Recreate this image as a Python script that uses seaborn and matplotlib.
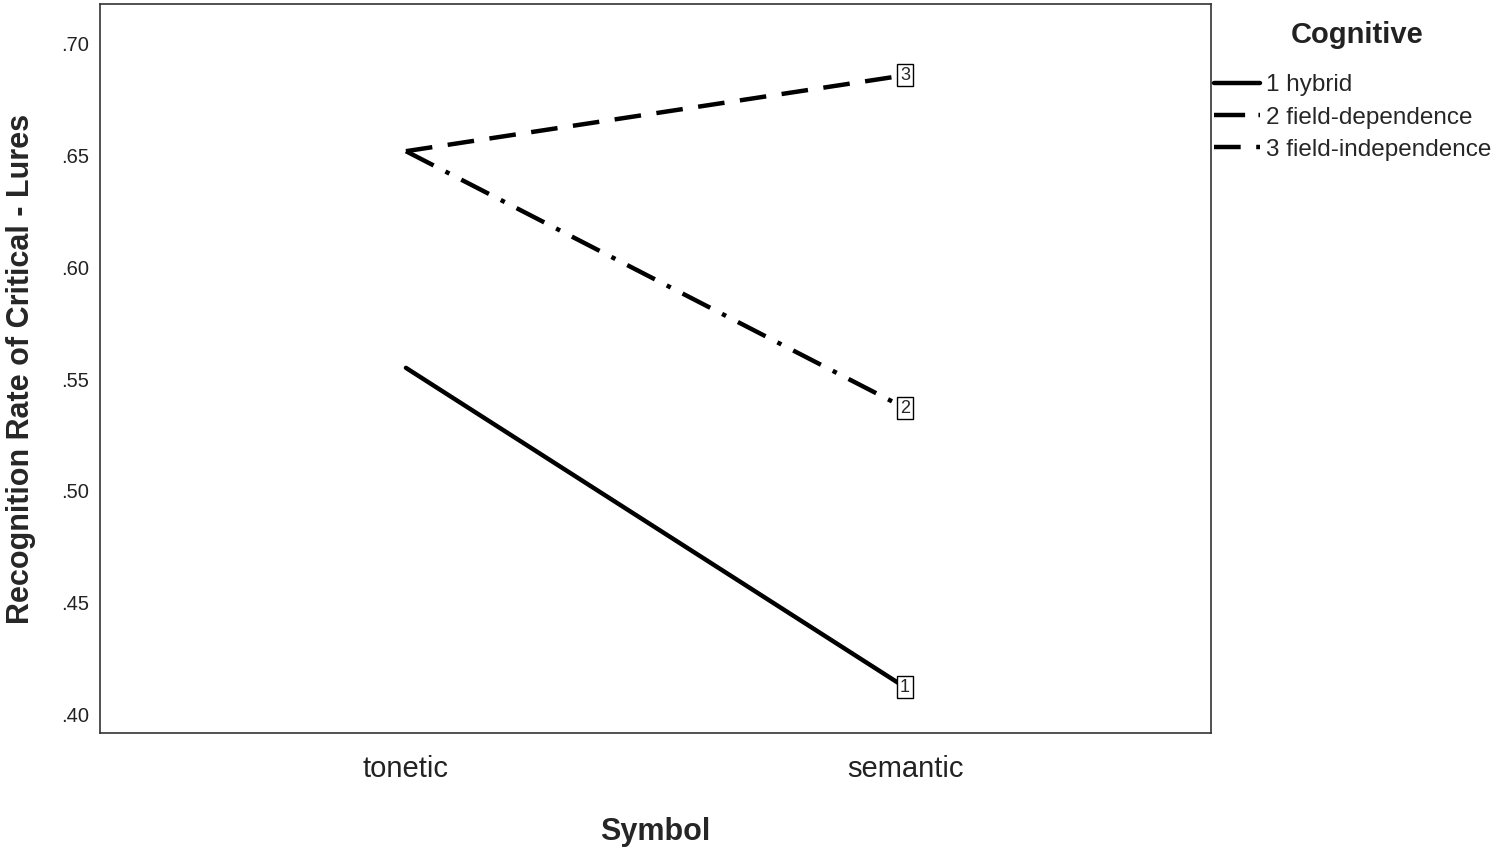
import numpy as np
import pandas as pd
import matplotlib
matplotlib.use("Agg")
import matplotlib.pyplot as plt
import seaborn as sns

# values
symbols = ["tonetic", "semantic"]
groups = ["1 hybrid", "2 field-dependence", "3 field-independence"]
group_ids = ["1", "2", "3"]
hybrid = [0.555, 0.412]
field_dep = [0.652, 0.537]
field_indep = [0.652, 0.686]
yticks = [0.40, 0.45, 0.50, 0.55, 0.60, 0.65, 0.70]

df = pd.DataFrame({
    "Symbol": symbols * 3,
    "Rate": hybrid + field_dep + field_indep,
    "Cognitive": [g for g in groups for _ in symbols],
})
df["x"] = df["Symbol"].map({s: i for i, s in enumerate(symbols)})

sns.set_style("white")
plt.rcParams["font.family"] = ["Liberation Sans", "DejaVu Sans"]

fig = plt.figure(figsize=(15.01, 8.5), dpi=100)
ax = fig.add_axes([0.0666, 0.1376, 0.7402, 0.8577])

dashes = {groups[0]: "", groups[1]: (7, 3, 1, 3), groups[2]: (6, 3.5)}
sns.lineplot(data=df, x="x", y="Rate", hue="Cognitive", style="Cognitive",
             palette=["black"] * 3, dashes=dashes, linewidth=3.2, ax=ax)

# small boxed group ids at the line ends
for gid, vals in zip(group_ids, [hybrid, field_dep, field_indep]):
    ax.text(1, vals[-1], gid, ha="center", va="center", fontsize=13,
            bbox=dict(boxstyle="square,pad=0.15", fc="white", ec="black", lw=1))

ax.set_xlim(-0.613, 1.613)
ax.set_ylim(0.3915, 0.7179)
ax.set_xticks(range(len(symbols)))
ax.set_xticklabels(symbols, fontsize=21)
ax.set_yticks(yticks)
ax.set_yticklabels([f"{v:.2f}"[1:] for v in yticks], fontsize=14.5)
ax.tick_params(axis="both", length=0, pad=8, colors="#222222")
ax.tick_params(axis="x", pad=16)
ax.set_xlabel("Symbol", fontsize=22, fontweight="bold", labelpad=24)
ax.set_ylabel("Recognition Rate of Critical - Lures", fontsize=22,
              fontweight="bold", labelpad=18)
for sp in ax.spines.values():
    sp.set_color("#333333")
    sp.set_linewidth(1.2)

ax.legend_.remove()
fig.text(0.904, 0.959, "Cognitive", ha="center", va="center",
         fontsize=21, fontweight="bold", color="#222222")
leg = fig.legend(*ax.get_legend_handles_labels(), loc="upper left",
                 bbox_to_anchor=(0.8085, 0.9125), frameon=False, fontsize=17.5,
                 handlelength=1.9, handletextpad=0.25, labelspacing=0.42,
                 borderaxespad=0, borderpad=0)

fig.savefig("out.png", dpi=100)
